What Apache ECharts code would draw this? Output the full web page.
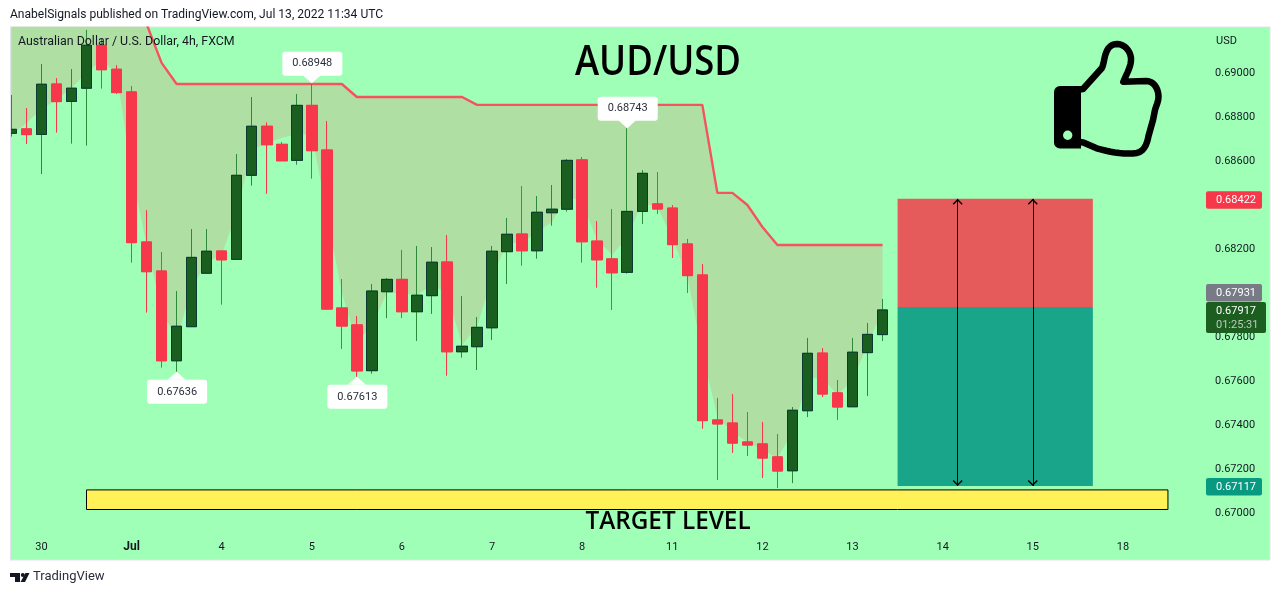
<!DOCTYPE html>
<html><head><meta charset="utf-8">
<script src="https://cdn.jsdelivr.net/npm/echarts@6/dist/echarts.min.js"></script>
<style>html,body{margin:0;padding:0;background:#fff}#c{width:1280px;height:595px}</style>
</head><body><div id="c"></div>
<script>
// ---- candle values ----
const opens=[.68720,.68740,.68715,.68944,.68865,.68925,.69120,.69011,.68908,.68226,.68094,.67686,.67841,.68084,.68185,.68147,.68529,.68752,.68670,.68597,.68847,.68644,.67926,.67849,.67641,.68000,.68056,.67909,.67982,.68135,.67727,.67750,.67836,.68182,.68262,.68186,.68359,.68375,.68599,.68230,.68149,.68088,.68365,.68399,.68380,.68217,.68076,.67417,.67403,.67317,.67308,.67249,.67186,.67459,.67721,.67540,.67477,.67723,.67805];
const closes=[.68738,.68714,.68943,.68864,.68925,.69120,.69009,.68905,.68223,.68091,.67686,.67843,.68156,.68184,.68145,.68529,.68752,.68668,.68595,.68847,.68641,.67921,.67844,.67640,.68003,.68056,.67909,.67984,.68134,.67727,.67752,.67838,.68184,.68261,.68186,.68361,.68375,.68597,.68227,.68145,.68086,.68365,.68538,.68376,.68214,.68073,.67414,.67399,.67312,.67303,.67244,.67185,.67461,.67720,.67535,.67476,.67725,.67806,.67917];
const lows=[.68705,.68671,.68535,.68723,.68673,.68664,.68923,.68899,.68132,.67905,.67655,.67636,.67841,.68084,.67941,.68147,.68482,.68445,.68595,.68577,.68514,.67917,.67740,.67613,.67627,.67880,.67880,.67776,.67899,.67618,.67700,.67644,.67780,.68035,.68118,.68150,.68300,.68364,.68132,.68018,.67917,.68082,.68308,.68353,.68153,.67994,.67377,.67144,.67267,.67253,.67153,.67108,.67130,.67430,.67521,.67417,.67477,.67526,.67776];
const highs=[.68894,.68835,.69035,.68971,.69012,.69190,.69153,.69030,.68935,.68371,.68180,.68003,.68285,.68285,.68185,.68626,.68885,.68770,.68680,.68899,.68948,.68776,.68058,.67890,.68035,.68062,.68190,.68208,.68203,.68258,.67980,.67885,.68208,.68335,.68480,.68435,.68485,.68603,.68612,.68321,.68376,.68743,.68553,.68544,.68394,.68240,.68126,.67517,.67535,.67453,.67408,.67353,.67476,.67790,.67744,.67599,.67790,.67858,.67967];
// upper (red) indicator line
const upperLine=[.6950,.6950,.6950,.6950,.6950,.6950,.6950,.6948,.69362,.69217,.69040,.68944,.68944,.68944,.68944,.68944,.68944,.68944,.68944,.68944,.68944,.68944,.68944,.68885,.68885,.68885,.68885,.68885,.68885,.68885,.68885,.68849,.68849,.68849,.68849,.68849,.68849,.68849,.68849,.68849,.68849,.68849,.68849,.68849,.68849,.68849,.68849,.68449,.68449,.68394,.68294,.68212,.68212,.68212,.68212,.68212,.68212,.68212,.68212];
// hidden lower edge of the shaded band
const lowerLine=[.68712,.68767,.68830,.68871,.68926,.68994,.69053,.68994,.68544,.68212,.67917,.67780,.68017,.68135,.68167,.68358,.68644,.68676,.68699,.68717,.68712,.68358,.67994,.67767,.67849,.67994,.67994,.67985,.68030,.67994,.67758,.67840,.68067,.68221,.68221,.68271,.68317,.68440,.68403,.68235,.68167,.68249,.68403,.68385,.68244,.68067,.67721,.67430,.67362,.67317,.67280,.67244,.67358,.67608,.67608,.67530,.67599,.67758,.67917];
// time axis
const barCount=84;
const tickIndex=[2,8,14,20,26,32,38,44,50,56,62,68,74];
const tickLabels=['30','Jul','4','5','6','7','8','11','12','13','14','15','18'];
// price axis
const priceMin=.668, priceMax=.692, priceStep=.002;
// position boxes
const stopPrice=.68422, entryPrice=.67931, targetPrice=.67117, lastPrice=.67917;
const boxStart=59, boxEnd=72, arrowA=63, arrowB=68;
const targetBand=[.67099,.67010], targetStart=5, targetEnd=77;
// callouts: [bar, price, above?]
const callouts=[[20,.68948,true],[41,.68743,true],[11,.67636,false],[23,.67613,false]];

const BG='#a0ffb7',FONT='Roboto, "Liberation Sans", sans-serif',INK='#131722';
const categories=new Array(barCount).fill('');
tickIndex.forEach((k,n)=>categories[k]=tickLabels[n]);
const fix=v=>+v.toFixed(5);
const wicks=opens.map((o,i)=>[o,closes[i],lows[i],highs[i]]);
const bodies=opens.map((o,i)=>[o,closes[i],Math.min(o,closes[i]),Math.max(o,closes[i])]);
const band=upperLine.map((u,i)=>fix(u-lowerLine[i]));
const chevron='path://M5,-6 L5,-6 M5,0 L10,5 L9,6 L5,2 L1,6 L0,5 Z';
const chart=echarts.init(document.getElementById('c'),null,{renderer:'canvas'});
chart.setOption({
 animation:false,
 backgroundColor:'#fff',
 grid:{left:3.9,top:27.7,width:15.02*barCount,height:528,containLabel:false},
 xAxis:{type:'category',data:categories,boundaryGap:true,
  axisLine:{show:false},axisTick:{show:false},splitLine:{show:false},
  axisLabel:{inside:true,margin:3,interval:(i,v)=>v!=='',color:INK,fontFamily:FONT,fontSize:11,
   formatter:v=>v==='Jul'?'{b|Jul}':v,rich:{b:{fontWeight:'bold',fontFamily:FONT,fontSize:12,color:INK}}}},
 yAxis:{type:'value',position:'right',min:priceMin,max:priceMax,interval:priceStep,scale:true,
  axisLine:{show:false},axisTick:{show:false},splitLine:{show:false},
  axisLabel:{inside:true,margin:10.5,showMinLabel:false,showMaxLabel:false,color:INK,fontFamily:FONT,fontSize:11,
   formatter:v=>'{p|'+v.toFixed(5)+'}',rich:{p:{fontFamily:FONT,fontSize:11,color:INK,padding:[3,0,0,0]}}}},
 series:[
  {name:'lower',type:'line',stack:'band',data:lowerLine,symbol:'none',lineStyle:{opacity:0},z:2},
  {name:'band',type:'line',stack:'band',data:band,symbol:'none',lineStyle:{opacity:0},areaStyle:{color:'#b0dfa3',opacity:1},z:2},
  {name:'upper',type:'line',data:upperLine,symbol:'none',lineStyle:{color:'#f7525f',width:2.4},z:3,
   markArea:{silent:true,data:[
    [{coord:[boxStart,stopPrice],itemStyle:{color:'#e55a5a',opacity:1}},{coord:[boxEnd,entryPrice]}],
    [{coord:[boxStart,entryPrice],itemStyle:{color:'#18a589',opacity:1}},{coord:[boxEnd,targetPrice]}],
    [{coord:[targetStart,targetBand[0]],itemStyle:{color:'#fff157',opacity:1,borderColor:'#000',borderWidth:1}},{coord:[targetEnd,targetBand[1]]}]
   ]}},
  {name:'wicks',type:'candlestick',data:wicks,barWidth:11,z:4,
   itemStyle:{color:'#1a5e20',color0:'#f7374a',borderColor:'#2e8b3a',borderColor0:'#f7374a',borderWidth:1}},
  {name:'bodies',type:'candlestick',data:bodies,barWidth:11,z:5,
   itemStyle:{color:'#1a5e20',color0:'#f7374a',borderColor:'#0a3a32',borderColor0:'#f7374a',borderWidth:1},
   markLine:{silent:true,precision:5,label:{show:false},lineStyle:{color:'#000',width:1,type:'solid'},
    symbol:[chevron,chevron],symbolSize:[10,12],
    data:[[{coord:[arrowA,targetPrice]},{coord:[arrowA,stopPrice]}],[{coord:[arrowB,targetPrice]},{coord:[arrowB,stopPrice]}]]},
   markPoint:{silent:true,data:callouts.map(c=>({
     coord:[c[0],c[1]],value:c[1],symbol:'triangle',symbolSize:[18,8],symbolRotate:c[2]?180:0,
     symbolOffset:[0,c[2]?-4:4],itemStyle:{color:'#fff'},
     label:{show:true,position:'inside',offset:[0.5,c[2]?-15.5:16],formatter:c[1].toFixed(5),color:'#2a2e39',fontFamily:FONT,fontSize:11,
      backgroundColor:'#fff',borderRadius:3,padding:[7,10,6,10]}
   }))}}
 ]
});
const py=p=>chart.convertToPixel({yAxisIndex:0},p);
function tag(price,text,fill,w,nudge,sub){
 const y=py(price),h=sub?31:17.5,top=y-8.5+nudge;
 const out=[{type:'rect',z:20,silent:true,shape:{x:1206,y:top,width:w,height:h,r:2},style:{fill}},
  {type:'text',z:21,silent:true,x:1216,y:top+9,style:{text,fill:'#fff',font:'11px '+FONT,textVerticalAlign:'middle'}}];
 if(sub)out.push({type:'text',z:21,silent:true,x:1216,y:top+23.5,style:{text:sub,fill:'#b9cdb9',font:'11px '+FONT,textVerticalAlign:'middle'}});
 return out;
}
const txt=(x,y,t,f)=>({type:'text',z:30,silent:true,x,y,style:Object.assign({text:t,fill:INK,font:'12px '+FONT,textVerticalAlign:'middle'},f||{})});
// thumb outline: straight points and cubic segments, flattened for a polygon
function flatten(start,segs){
 const pts=[start];let p=start;
 segs.forEach(s=>{
  if(s.length===2){pts.push(s);p=s;return;}
  for(let k=1;k<=8;k++){const t=k/8,u=1-t;
   pts.push([u*u*u*p[0]+3*u*u*t*s[0]+3*u*t*t*s[2]+t*t*t*s[4],u*u*u*p[1]+3*u*u*t*s[1]+3*u*t*t*s[3]+t*t*t*s[5]]);}
  p=[s[4],s[5]];
 });
 return pts;
}
const thumbPoints=flatten([1076,90],[[1083,89],[1101.7,68.3],[1104,64,1104,58,1106,53],[1108,47,1112,44,1117,44],[1124,44,1130,50,1131,58],[1131.5,66,1127,73,1123.3,81.7],[1146,81],[1153,81,1158,87,1158.5,96],[1158.5,102,1156,106,1155,110],[1153,120],[1148.5,136],[1147,144,1144,153.5,1133,153.5],[1120,154,1110,152,1096.7,148.3],[1083.3,142.5],[1076,141.5]]);
chart.setOption({graphic:[
 {type:'rect',z:-1,silent:true,shape:{x:10,y:27,width:1260,height:533},style:{fill:BG,stroke:'#e0e3eb',lineWidth:1}},
 {type:'rect',z:50,silent:true,shape:{x:0,y:0,width:10,height:595},style:{fill:'#fff'}},
 {type:'rect',z:50,silent:true,shape:{x:10,y:26.5,width:1,height:534},style:{fill:'#e0e3eb'}},
 txt(10,15,'AnabelSignals published on TradingView.com, Jul 13, 2022 11:34 UTC',{font:'12.07px '+FONT}),
 txt(18,42,'Australian Dollar / U.S. Dollar, 4h, FXCM',{font:'12.4px '+FONT}),
 txt(1216,41.5,'USD',{font:'11px '+FONT}),
 {type:'text',z:30,silent:true,x:658,y:63,scaleX:0.89,style:{text:'AUD/USD',fill:'#000',font:'600 41px "Open Sans", sans-serif',textAlign:'center',textVerticalAlign:'middle'}},
 {type:'text',z:30,silent:true,x:668,y:522.5,style:{text:'TARGET LEVEL',fill:'#000',font:'600 24.3px "Open Sans", sans-serif',textAlign:'center',textVerticalAlign:'middle'}},
 ...tag(stopPrice,'0.68422','#f7374a',56,0.8),
 ...tag(entryPrice,'0.67931','#787b86',56,-14.4),
 ...tag(targetPrice,'0.67117','#089981',56,0.5),
 ...tag(lastPrice,'0.67917','#1b5e20',60,0.5,'01:25:31'),
 // thumb icon
 {type:'polygon',z:30,silent:true,shape:{points:thumbPoints},style:{fill:BG,stroke:'#000',lineWidth:6.5,lineJoin:'round'}},
 {type:'rect',z:31,silent:true,shape:{x:1054,y:86,width:27,height:62.5,r:[6,0,0,6]},style:{fill:'#000'}},
 {type:'circle',z:32,silent:true,shape:{cx:1067.7,cy:135.3,r:4.7},style:{fill:BG}},
 // TradingView mark
 {type:'polygon',z:30,silent:true,shape:{points:[[10,573],[20,573],[20,582],[15,582],[15,577],[10,577]]},style:{fill:'#131722'}},
 {type:'circle',z:30,silent:true,shape:{cx:22.8,cy:575,r:2},style:{fill:'#131722'}},
 {type:'polygon',z:30,silent:true,shape:{points:[[25.5,573],[29.5,573],[25,582],[20.5,582]]},style:{fill:'#131722'}},
 txt(33,577,'TradingView',{font:'13px '+FONT,fill:'#2a2e39'})
]});
</script></body></html>
